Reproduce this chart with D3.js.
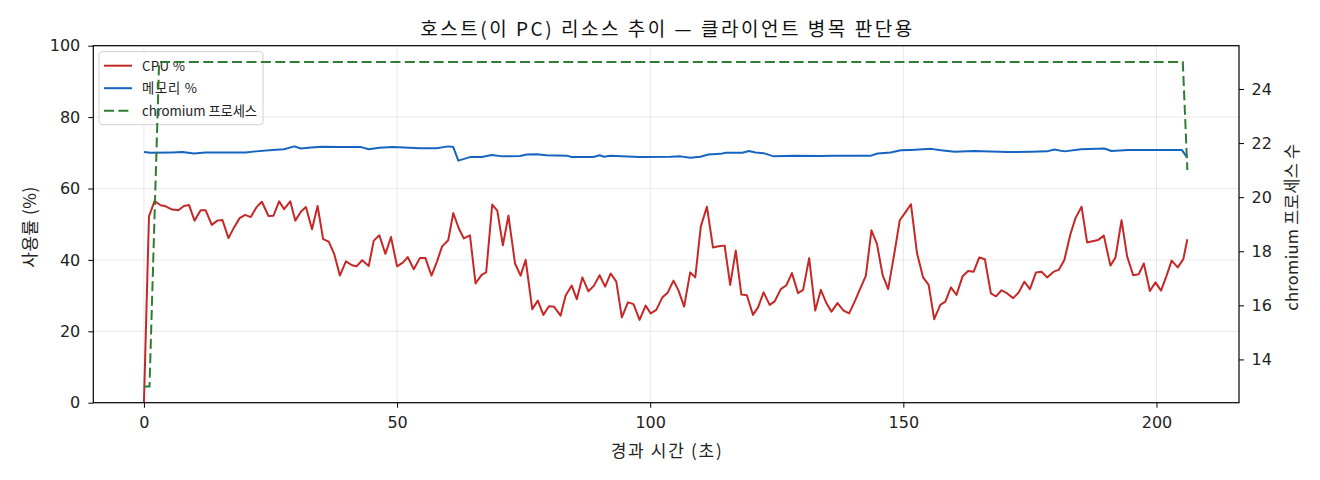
<!DOCTYPE html>
<html>
<head>
<meta charset="utf-8">
<script src="https://cdn.jsdelivr.net/npm/d3@7"></script>
<style>
  body { margin: 0; background: #fff; }
  svg { display: block; font-family: "Noto Sans CJK KR", "Noto Sans", sans-serif; }
  .grid line { stroke: #b0b0b0; stroke-opacity: 0.35; stroke-width: 0.8; }
</style>
</head>
<body>
<svg id="chart"></svg>
<script>
// --------------------
// Data
// --------------------
const cpuTime = [0, 1.0, 2.1, 3.3, 4.3, 5.6, 6.8, 7.9, 8.9, 10.0, 11.2, 12.2, 13.4, 14.5, 15.5, 16.7, 17.8, 18.9, 20.0, 21.1,
  22.2, 23.3, 24.6, 25.6, 26.7, 27.7, 28.9, 29.9, 31.0, 32.0, 33.2, 34.3, 35.4, 36.5, 37.6, 38.7, 39.9, 41.1, 42.0, 43.1,
  44.4, 45.4, 46.5, 47.7, 48.8, 50.0, 51.2, 52.1, 53.3, 54.5, 55.6, 56.8, 57.9, 58.9, 60.1, 61.1, 62.2, 63.2, 64.4, 65.5,
  66.7, 67.6, 68.8, 69.8, 70.9, 72.0, 73.3, 74.4, 75.4, 76.7, 77.8, 78.9, 80.0, 81.0, 82.3, 83.3, 84.5, 85.5, 86.6, 87.8,
  88.9, 90.0, 91.1, 92.2, 93.3, 94.4, 95.6, 96.7, 97.9, 99.1, 100.1, 101.2, 102.4, 103.4, 104.6, 105.6, 106.7, 107.9, 108.9, 110.0,
  111.2, 112.4, 113.5, 114.7, 115.8, 116.9, 118.0, 119.1, 120.3, 121.3, 122.4, 123.6, 124.6, 125.8, 126.9, 128.0, 129.2, 130.2, 131.4, 132.6,
  133.7, 134.8, 135.8, 137.0, 138.2, 139.3, 140.4, 141.6, 142.6, 143.7, 144.8, 145.9, 147.0, 148.2, 149.3, 150.4, 151.5, 152.7, 153.9, 155.0,
  156.1, 157.3, 158.3, 159.4, 160.5, 161.7, 162.8, 163.9, 165.0, 166.1, 167.3, 168.3, 169.4, 170.5, 171.7, 172.8, 173.9, 175.0, 176.2, 177.3,
  178.4, 179.7, 180.7, 181.8, 183.0, 184.0, 185.2, 186.3, 187.3, 188.5, 189.6, 190.9, 191.9, 193.1, 194.2, 195.4, 196.5, 197.5, 198.7, 199.8,
  200.9, 202.0, 203.0, 204.2, 205.3, 206.1];
const cpuPct = [0, 52.2, 56.5, 55.3, 55.0, 54.1, 53.9, 55.1, 55.4, 51.0, 53.9, 53.9, 49.8, 51.0, 51.2, 46.1, 49.1, 51.7, 52.6, 52.0,
  54.7, 56.3, 52.3, 52.4, 56.4, 54.2, 56.4, 51.0, 53.5, 54.8, 48.6, 55.1, 45.8, 45.1, 41.6, 35.6, 39.6, 38.5, 38.2, 39.9,
  38.3, 45.4, 46.9, 41.7, 46.4, 38.2, 39.3, 40.8, 37.4, 40.5, 40.5, 35.6, 39.6, 43.8, 45.5, 53.1, 48.8, 46.0, 46.9, 33.4,
  35.8, 36.5, 55.5, 53.8, 44.1, 52.4, 39.0, 35.6, 40.0, 26.2, 28.6, 24.6, 27.0, 26.9, 24.4, 30.0, 32.8, 29.0, 35.1, 31.2,
  32.8, 35.7, 32.5, 36.2, 33.9, 23.9, 28.1, 27.6, 23.2, 27.2, 25.0, 26.0, 29.5, 30.7, 34.2, 31.4, 26.9, 36.5, 35.1, 49.4,
  54.9, 43.5, 43.8, 44.0, 33.0, 42.6, 30.3, 30.1, 24.6, 26.7, 30.9, 27.4, 28.4, 31.8, 32.9, 36.3, 30.7, 31.6, 40.5, 25.8,
  31.6, 27.9, 25.5, 27.9, 25.8, 25.0, 28.4, 32.3, 35.6, 48.3, 44.4, 35.8, 31.8, 41.6, 51.1, 53.3, 55.6, 41.9, 35.1, 33.0,
  23.4, 27.4, 28.3, 32.3, 30.2, 35.4, 36.9, 36.7, 40.7, 40.2, 30.6, 29.8, 31.5, 30.6, 29.3, 30.9, 33.9, 31.8, 36.5, 36.7,
  35.1, 36.7, 37.2, 40.0, 47.2, 51.7, 54.9, 44.9, 45.2, 45.6, 46.8, 38.4, 40.7, 51.1, 41.0, 35.7, 36.0, 39.0, 31.3, 33.7,
  31.4, 35.6, 39.8, 37.9, 40.2, 45.8];

const memTime = [0, 1.3, 5.6, 7.6, 9.9, 12.2, 16.2, 20.1, 22.1, 25.4, 27.7, 29.7, 31.0, 33.0, 35.3, 38.6, 42.9, 44.4, 46.5, 49.2,
  54.5, 57.8, 60.1, 61.1, 62.1, 64.4, 66.7, 68.7, 70.9, 74.3, 75.6, 77.6, 79.5, 83.5, 84.5, 88.8, 90.0, 90.9, 92.1, 96.7,
  98.0, 104.0, 106.0, 107.9, 109.9, 111.5, 113.9, 114.9, 118.2, 119.5, 120.8, 122.4, 124.4, 128.4, 133.7, 136.3, 143.6, 144.9, 147.5, 149.5,
  151.5, 155.5, 157.4, 160.1, 164.0, 170.6, 175.2, 178.4, 179.8, 181.8, 185.1, 189.7, 191.1, 194.4, 199.7, 205.0, 206.1];
const memPct = [70.2, 70.0, 70.1, 70.2, 69.8, 70.1, 70.1, 70.1, 70.4, 70.8, 71.0, 71.8, 71.2, 71.5, 71.7, 71.6, 71.6, 71.0, 71.4, 71.6,
  71.3, 71.3, 71.8, 71.6, 67.8, 68.8, 68.8, 69.4, 69.0, 69.1, 69.5, 69.6, 69.3, 69.2, 68.8, 68.8, 69.3, 68.9, 69.2, 68.9,
  68.8, 68.9, 69.0, 68.6, 68.9, 69.5, 69.7, 70.0, 70.0, 70.5, 70.1, 69.9, 69.0, 69.2, 69.1, 69.2, 69.2, 69.8, 70.1, 70.7,
  70.8, 71.1, 70.7, 70.3, 70.5, 70.2, 70.3, 70.4, 70.9, 70.4, 71.0, 71.2, 70.5, 70.8, 70.8, 70.8, 68.6];

const procTime = [0, 1.1, 3.0, 205.2, 206.1];
const procCount = [13, 13, 25, 25, 21];

const leftTicks = [0, 20, 40, 60, 80, 100];
const rightTicks = [14, 16, 18, 20, 22, 24];
const xTicks = [0, 50, 100, 150, 200];

const seriesNames = ["CPU %", "메모리 %", "chromium 프로세스"];
const seriesColors = ["#c62828", "#1565c0", "#2e7d32"];

// --------------------
// Basic setup
// --------------------
const width = 1320;
const height = 480;
const margin = { top: 45.7, right: 81, bottom: 77.3, left: 93.3 };
const plotW = width - margin.left - margin.right;
const plotH = height - margin.top - margin.bottom;

const svg = d3.select("#chart")
  .attr("width", width)
  .attr("height", height);

const g = svg.append("g")
  .attr("transform", `translate(${margin.left},${margin.top})`);

// --------------------
// Scales
// --------------------
const x = d3.scaleLinear().domain([-10.0, 216.3]).range([0, plotW]);
const yL = d3.scaleLinear().domain([0, 100]).range([plotH, 0]);
const yR = d3.scaleLinear().domain([12.4, 25.6]).range([plotH, 0]);

// --------------------
// Grid
// --------------------
g.append("g").attr("class", "grid")
  .selectAll("line").data(leftTicks).join("line")
    .attr("x1", 0).attr("x2", plotW)
    .attr("y1", d => yL(d)).attr("y2", d => yL(d));

g.append("g").attr("class", "grid")
  .selectAll("line").data(xTicks).join("line")
    .attr("x1", d => x(d)).attr("x2", d => x(d))
    .attr("y1", 0).attr("y2", plotH);

// --------------------
// Lines
// --------------------
const cpuData = cpuTime.map((t, i) => [t, cpuPct[i]]);
const memData = memTime.map((t, i) => [t, memPct[i]]);
const procData = procTime.map((t, i) => [t, procCount[i]]);

const lineL = d3.line().x(d => x(d[0])).y(d => yL(d[1]));
const lineR = d3.line().x(d => x(d[0])).y(d => yR(d[1]));

g.append("path").datum(cpuData)
  .attr("d", lineL)
  .attr("fill", "none")
  .attr("stroke", seriesColors[0])
  .attr("stroke-width", 2)
  .attr("stroke-linejoin", "round");

g.append("path").datum(memData)
  .attr("d", lineL)
  .attr("fill", "none")
  .attr("stroke", seriesColors[1])
  .attr("stroke-width", 2)
  .attr("stroke-linejoin", "round");

// --------------------
// Legend (drawn under the twin-axis line)
// --------------------
const legendLen = [43, 55, 115];
const legend = g.append("g").attr("transform", "translate(5.7,6)");
legend.append("rect")
  .attr("width", 164).attr("height", 73)
  .attr("rx", 3)
  .attr("fill", "#fff").attr("fill-opacity", 0.8)
  .attr("stroke", "#d0d0d0");

seriesNames.forEach((name, i) => {
  const ly = 14 + i * 22.5;
  legend.append("line")
    .attr("x1", 5).attr("x2", 33)
    .attr("y1", ly).attr("y2", ly)
    .attr("stroke", seriesColors[i])
    .attr("stroke-width", 2)
    .attr("stroke-dasharray", i === 2 ? "10,4.4" : null);
  legend.append("text")
    .attr("x", 43).attr("y", ly + 5)
    .attr("font-size", 13.3)
    .attr("fill", "#222")
    .attr("textLength", legendLen[i])
    .attr("lengthAdjust", "spacing")
    .text(name);
});

g.append("path").datum(procData)
  .attr("d", lineR)
  .attr("fill", "none")
  .attr("stroke", seriesColors[2])
  .attr("stroke-width", 2)
  .attr("stroke-dasharray", "10,4.4");

// --------------------
// Axes
// --------------------
const axisStyle = sel => {
  sel.select(".domain").remove();
  sel.selectAll(".tick line").attr("stroke", "#000").attr("stroke-width", 1);
  sel.selectAll(".tick text").attr("font-size", 16).attr("fill", "#222")
    .attr("font-family", "\"DejaVu Sans\", sans-serif");
};

g.append("g")
  .attr("transform", `translate(0,${plotH})`)
  .call(d3.axisBottom(x).tickValues(xTicks).tickSize(5).tickPadding(9).tickFormat(d3.format("d")))
  .call(axisStyle);

g.append("g")
  .call(d3.axisLeft(yL).tickValues(leftTicks).tickSize(5).tickPadding(8).tickFormat(d3.format("d")))
  .call(axisStyle);

g.append("g")
  .attr("transform", `translate(${plotW},0)`)
  .call(d3.axisRight(yR).tickValues(rightTicks).tickSize(5).tickPadding(7.5).tickFormat(d3.format("d")))
  .call(axisStyle);

g.append("rect")
  .attr("width", plotW).attr("height", plotH)
  .attr("fill", "none").attr("stroke", "#000").attr("stroke-width", 1.2);

// --------------------
// Titles
// --------------------
svg.append("text")
  .attr("x", margin.left + plotW / 2).attr("y", 36)
  .attr("text-anchor", "middle")
  .attr("font-size", 19).attr("fill", "#111")
  .attr("textLength", 492).attr("lengthAdjust", "spacing")
  .text("호스트(이 PC) 리소스 추이 — 클라이언트 병목 판단용");

svg.append("text")
  .attr("x", margin.left + plotW / 2).attr("y", 457)
  .attr("text-anchor", "middle")
  .attr("font-size", 17).attr("fill", "#222")
  .attr("textLength", 111).attr("lengthAdjust", "spacing")
  .text("경과 시간 (초)");

svg.append("text")
  .attr("transform", `translate(36,${margin.top + plotH / 2 + 3}) rotate(-90)`)
  .attr("text-anchor", "middle")
  .attr("font-size", 17).attr("fill", "#222")
  .attr("textLength", 81).attr("lengthAdjust", "spacing")
  .text("사용률 (%)");

svg.append("text")
  .attr("transform", `translate(1298,${margin.top + plotH / 2 + 3}) rotate(-90)`)
  .attr("text-anchor", "middle")
  .attr("font-size", 16.5).attr("fill", "#222")
  .attr("textLength", 167).attr("lengthAdjust", "spacing")
  .text("chromium 프로세스 수");
</script>
</body>
</html>
